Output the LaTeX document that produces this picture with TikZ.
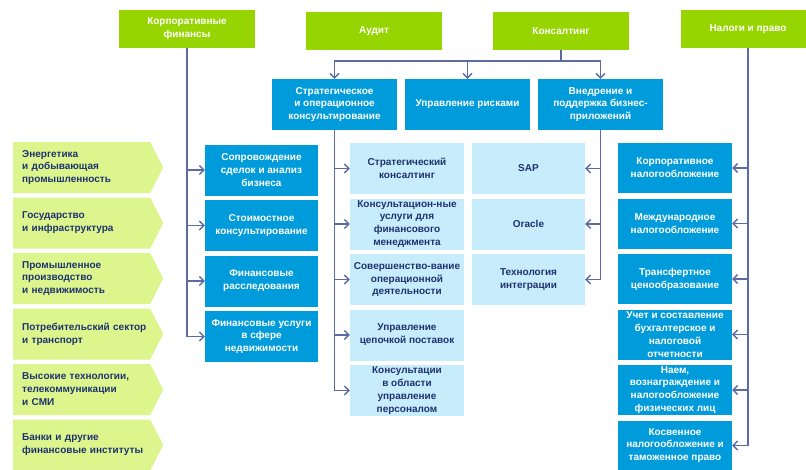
\documentclass[tikz,border=0pt]{standalone}
\usepackage{fontspec}
\setmainfont{Liberation Sans}
\usepackage{tikz}
\usetikzlibrary{positioning,arrows.meta,shapes.symbols}

\definecolor{topgreen}{RGB}{151,213,0}
\definecolor{indgreen}{RGB}{220,245,140}
\definecolor{unitblue}{RGB}{0,155,219}
\definecolor{paleblue}{RGB}{199,236,252}
\definecolor{linkblue}{RGB}{92,106,166}
\definecolor{inknavy}{RGB}{30,50,112}

\begin{document}
\begin{tikzpicture}[x=1pt,y=-1pt,
  base/.style = {font=\bfseries\fontsize{10}{12.9}\selectfont, align=center, inner sep=0pt},
  top/.style = {base, fill=topgreen, text=white, minimum width=136pt, minimum height=38pt},
  unit/.style = {base, fill=unitblue, text=white, minimum height=51pt},
  pale/.style = {base, fill=paleblue, text=inknavy, minimum height=51pt},
  industry/.style = {base, signal, signal to=east, signal pointer angle=126, fill=indgreen,
    text=inknavy, align=left, text width=134pt, inner xsep=1.5pt, minimum height=51pt,
    execute at begin node={\leftskip=7.5pt}},
  link/.style = {draw=linkblue, line width=1.3pt},
  arr/.style = {-{Straight Barb[length=4.5pt,width=9pt]}},
  node distance={55.5pt}]
\useasboundingbox (0,0) rectangle (806,469);

% top row
\node[top] (cf) at (187,29) {Корпоративные\\финансы};
\node[top] (audit) at (374,31) {Аудит};
\node[top] (cons) at (561,31) {Консалтинг};
\node[top, minimum width=134pt] (tax) at (748,29) {Налоги и право};

% consulting units
\node[unit, minimum width=125pt] (strat) at (334.5,104.5) {Стратегическое\\и операционное\\консультирование};
\node[unit, minimum width=125pt] (risk) at (467.5,104.5) {Управление рисками};
\node[unit, minimum width=125pt] (impl) at (600.5,104.5) {Внедрение и\\поддержка бизнес-\\приложений};

% industries
\node[industry, anchor=west] (ind1) at (13,167.5) {Энергетика\\и добывающая\\промышленность};
\node[industry] (ind2) [below of=ind1] {Государство\\и инфраструктура};
\node[industry] (ind3) [below of=ind2] {Промышленное\\производство\\и недвижимость};
\node[industry] (ind4) [below of=ind3] {Потребительский сектор\\и транспорт};
\node[industry] (ind5) [below of=ind4] {Высокие технологии,\\телекоммуникации\\и СМИ};
\node[industry] (ind6) [below of=ind5] {Банки и другие\\финансовые институты};

% corporate finance
\node[unit, minimum width=113pt] (fa1) at (261.5,170) {Сопровождение\\сделок и анализ\\бизнеса};
\node[unit, minimum width=113pt] (fa2) [below of=fa1] {Стоимостное\\консультирование};
\node[unit, minimum width=113pt] (fa3) [below of=fa2] {Финансовые\\расследования};
\node[unit, minimum width=113pt] (fa4) [below of=fa3] {Финансовые услуги\\в сфере\\недвижимости};

% strategy and operations
\node[pale, minimum width=114pt] (sc1) at (407,168.5) {Стратегический\\консалтинг};
\node[pale, minimum width=114pt] (sc2) [below of=sc1] {Консультацион-ные\\услуги для\\финансового\\менеджмента};
\node[pale, minimum width=114pt] (sc3) [below of=sc2] {Совершенство-вание\\операционной\\деятельности};
\node[pale, minimum width=114pt] (sc4) [below of=sc3] {Управление\\цепочкой поставок};
\node[pale, minimum width=114pt] (sc5) [below of=sc4] {Консультации\\в области\\управление\\персоналом};

% business applications
\node[pale, minimum width=113pt] (it1) at (528.5,168.5) {SAP};
\node[pale, minimum width=113pt] (it2) [below of=it1] {Oracle};
\node[pale, minimum width=113pt] (it3) [below of=it2] {Технология\\интеграции};

% tax and legal
\node[unit, minimum width=114pt, minimum height=50pt] (tx1) at (675,168) {Корпоративное\\налогообложение};
\node[unit, minimum width=114pt, minimum height=50pt] (tx2) [below of=tx1] {Международное\\налогообложение};
\node[unit, minimum width=114pt, minimum height=50pt] (tx3) [below of=tx2] {Трансфертное\\ценообразование};
\node[unit, minimum width=114pt, minimum height=50pt] (tx4) [below of=tx3] {Учет и составление\\бухгалтерское и\\налоговой\\отчетности};
\node[unit, minimum width=114pt, minimum height=50pt] (tx5) [below of=tx4] {Наем,\\вознаграждение и\\налогообложение\\физических лиц};
\node[unit, minimum width=114pt, minimum height=50pt] (tx6) [below of=tx5] {Косвенное\\налогообложение и\\таможенное право};

\coordinate (cbus) at (561,61);

% corporate finance links
\draw[link] (cf) -- (cf |- fa4);
\draw[link, arr] (cf |- fa1) -- (fa1);
\draw[link, arr] (cf |- fa2) -- (fa2);
\draw[link, arr] (cf |- fa3) -- (fa3);
\draw[link, arr] (cf |- fa4) -- (fa4);

% consulting links
\draw[link] (cons) -- (cbus);
\draw[link, arr] (cbus) -| (strat);
\draw[link, arr] (cbus) -| (risk);
\draw[link, arr] (cbus) -| (impl);

\draw[link] (strat) -- (strat |- sc5);
\draw[link, arr] (strat |- sc1) -- (sc1);
\draw[link, arr] (strat |- sc2) -- (sc2);
\draw[link, arr] (strat |- sc3) -- (sc3);
\draw[link, arr] (strat |- sc4) -- (sc4);
\draw[link, arr] (strat |- sc5) -- (sc5);

\draw[link] (impl) -- (impl |- it3);
\draw[link, arr] (impl |- it1) -- (it1);
\draw[link, arr] (impl |- it2) -- (it2);
\draw[link, arr] (impl |- it3) -- (it3);

% tax links
\draw[link] (tax) -- (tax |- tx6);
\draw[link, arr] (tax |- tx1) -- (tx1);
\draw[link, arr] (tax |- tx2) -- (tx2);
\draw[link, arr] (tax |- tx3) -- (tx3);
\draw[link, arr] (tax |- tx4) -- (tx4);
\draw[link, arr] (tax |- tx5) -- (tx5);
\draw[link, arr] (tax |- tx6) -- (tx6);
\end{tikzpicture}
\end{document}
